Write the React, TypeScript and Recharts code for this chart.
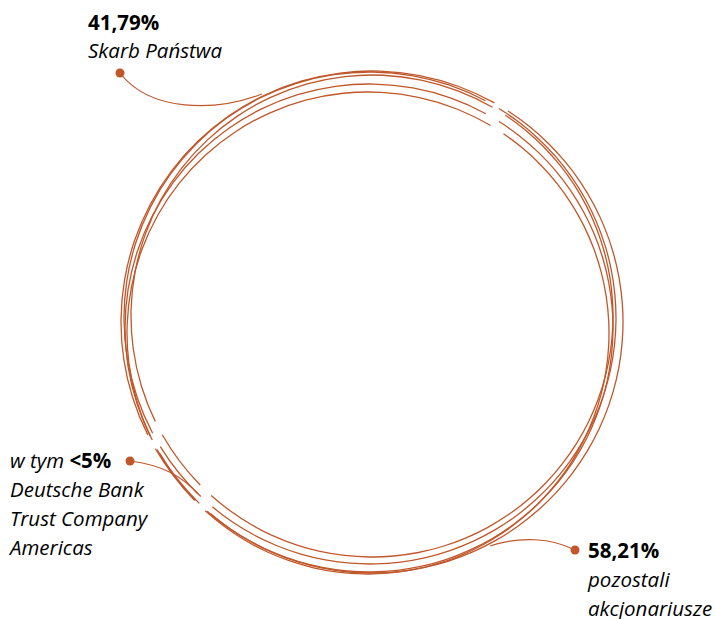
import { PieChart, Pie, Cell } from "recharts";

// shareholder structure, clockwise from the top-right gap
const segmentNames = ["pozostali akcjonariusze (bez DB)", "Deutsche Bank Trust Company Americas", "Skarb Państwa"];
const segmentValues = [53.91, 4.3, 41.79];

const headlineValues = ["41,79%", "<5%", "58,21%"];
const captionLines = [["Skarb Państwa"], ["Deutsche Bank", "Trust Company", "Americas"], ["pozostali", "akcjonariusze"]];

const ACCENT = "#c0572b";
const FONT = "'Open Sans', 'Noto Sans', sans-serif";

// slightly shifted circles give the hand-drawn look
const rings = [
  { cx: 372, cy: 322, r: 251, rot: 0.0 },
  { cx: 370, cy: 318, r: 246, rot: 1.2 },
  { cx: 372, cy: 316, r: 241, rot: -0.8 },
  { cx: 369, cy: 328, r: 244, rot: 0.6 },
  { cx: 368, cy: 333, r: 241, rot: -1.4 },
];

const START = 59;
const PAD = 3.6;

export default function App() {
  const data = segmentNames.map((name, i) => ({ name, value: segmentValues[i] }));
  return (
    <div style={{ position: "absolute", left: 0, top: 0, width: 715, height: 619, background: "#fff", fontFamily: FONT }}>
      <PieChart width={715} height={619} margin={{ top: 0, right: 0, bottom: 0, left: 0 }}>
        {rings.map((ring, k) => (
          <Pie
            key={k}
            data={data}
            dataKey="value"
            cx={ring.cx}
            cy={ring.cy}
            innerRadius={ring.r - 0.65}
            outerRadius={ring.r + 0.65}
            startAngle={START + ring.rot - PAD / 2}
            endAngle={START + ring.rot - PAD / 2 - 360}
            paddingAngle={PAD}
            stroke="none"
            isAnimationActive={false}
          >
            {data.map((d, i) => (
              <Cell key={i} fill={ACCENT} />
            ))}
          </Pie>
        ))}
      </PieChart>
      <svg width={715} height={619} style={{ position: "absolute", left: 0, top: 0, pointerEvents: "none" }}>
        <g fill="none" stroke={ACCENT} strokeWidth={1.2}>
          <path d="M120,73 C150,112 215,112 262,94" />
          <path d="M130,461 C162,465 182,476 198,494" />
          <path d="M575,550 C552,538 520,536 490,546" />
        </g>
        <g fill={ACCENT}>
          <circle cx={120} cy={73} r={4.5} />
          <circle cx={130} cy={461} r={4.5} />
          <circle cx={575} cy={550} r={4.5} />
        </g>
        <g fill="#000" fontSize={20.5}>
          <text x={88} y={30} fontWeight={700}>{headlineValues[0]}</text>
          <text x={88} y={58} fontStyle="italic">{captionLines[0][0]}</text>

          <text x={10} y={468}>
            <tspan fontStyle="italic">w tym </tspan>
            <tspan fontWeight={700}>{headlineValues[1]}</tspan>
          </text>
          {captionLines[1].map((t, i) => (
            <text key={t} x={10} y={497 + i * 29} fontStyle="italic">{t}</text>
          ))}

          <text x={588} y={558} fontWeight={700}>{headlineValues[2]}</text>
          {captionLines[2].map((t, i) => (
            <text key={t} x={588} y={587 + i * 29} fontStyle="italic">{t}</text>
          ))}
        </g>
      </svg>
    </div>
  );
}
